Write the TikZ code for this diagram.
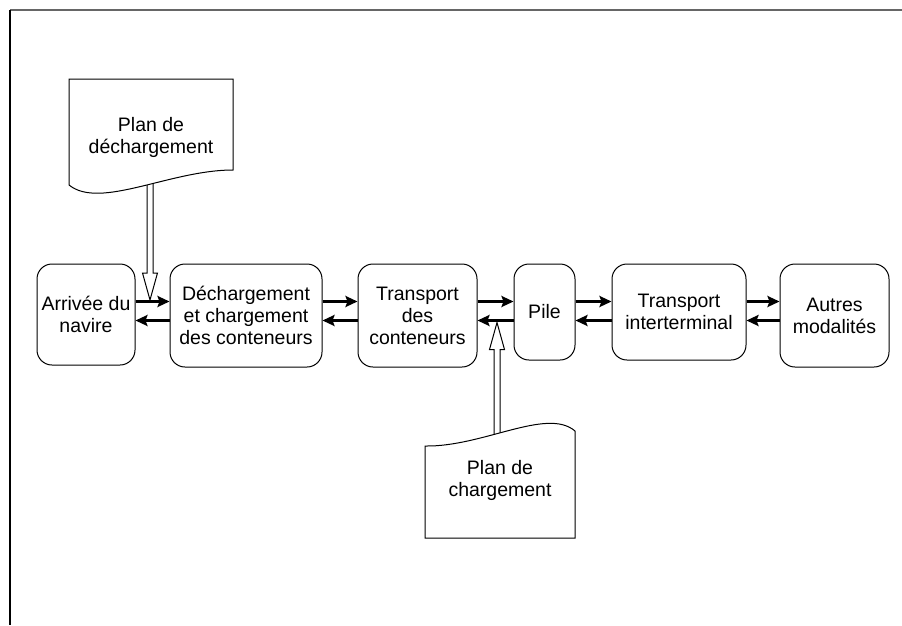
\documentclass[tikz,border=0pt]{standalone}
\usepackage{fontspec}
\setmainfont{Liberation Sans}
\usetikzlibrary{arrows.meta,backgrounds}
\begin{document}
\begin{tikzpicture}[x=1pt,y=-1pt,
        etape/.style={draw,line width=1pt,rounded corners=15pt,align=center,
            inner sep=0pt,font=\fontsize{19.5}{22}\selectfont},
        flux/.style={line width=3pt,-{Stealth[length=12pt,width=11pt,inset=2pt]}},
        feuille/.style={draw,line width=1pt,fill=white},
        plan/.style={align=center,font=\fontsize{19.5}{22}\selectfont},
        creux/.style={draw,line width=1pt,fill=white}]
    \useasboundingbox (0,0) rectangle (902,625);
    \draw[line width=2pt,black!60] (10,10) -- (902,10);
    \draw[line width=1.5pt] (10,10) -- (10,625);
    % etapes
    \node[etape,minimum width=98pt,minimum height=101pt] (arr) at (86,314.5) {Arrivée du\\navire};
    \node[etape,minimum width=152pt,minimum height=103pt] (dech) at (246,315.5) {Déchargement\\et chargement\\des conteneurs};
    \node[etape,minimum width=119pt,minimum height=103pt] (trans) at (417.5,315.5) {Transport\\des\\conteneurs};
    \node[etape,minimum width=61pt,minimum height=96pt] (pile) at (544.5,312) {Pile};
    \node[etape,minimum width=134pt,minimum height=96pt] (inter) at (679,312) {Transport\\interterminal};
    \node[etape,minimum width=109pt,minimum height=103pt] (autres) at (834.5,315.5) {Autres\\modalités};
    % aller et retour
    \draw[flux] ([yshift=-38pt]arr.north east) -- ([yshift=-38pt]dech.north west);
    \draw[flux] ([yshift=-57pt]dech.north west) -- ([yshift=-57pt]arr.north east);
    \draw[flux] ([yshift=-38pt]dech.north east) -- ([yshift=-38pt]trans.north west);
    \draw[flux] ([yshift=-57pt]trans.north west) -- ([yshift=-57pt]dech.north east);
    \draw[flux] ([yshift=-38pt]trans.north east) -- ([yshift=-38pt]pile.north west);
    \draw[flux] ([yshift=-57pt]pile.north west) -- ([yshift=-57pt]trans.north east);
    \draw[flux] ([yshift=-38pt]pile.north east) -- ([yshift=-38pt]inter.north west);
    \draw[flux] ([yshift=-57pt]inter.north west) -- ([yshift=-57pt]pile.north east);
    \draw[flux] ([yshift=-38pt]inter.north east) -- ([yshift=-38pt]autres.north west);
    \draw[flux] ([yshift=-57pt]autres.north west) -- ([yshift=-57pt]inter.north east);
    % plans
    \draw[feuille] (69,79) -- (233,79) -- (233,170) .. controls (170,170) and (100,210) .. (69,185) -- cycle;
    \node[plan] (pland) at (151,137) {Plan de\\déchargement};
    \draw[feuille] (425,538) -- (575,538) -- (575,431) .. controls (547,407) and (483,447) .. (425,446) -- cycle;
    \node[plan] (planc) at (500,480) {Plan de\\chargement};
    \coordinate (pointed) at (150,300);
    \coordinate (pointec) at (497,322.5);
    \begin{scope}[on background layer]
        \draw[creux] (pointed) -- ++(-7.5,-27) -- ++(4.5,0) -- ++(0,-95) -- ++(6,0) -- ++(0,95) -- ++(4.5,0) -- cycle;
        \draw[creux] (pointec) -- ++(-7.5,27) -- ++(4.5,0) -- ++(0,95) -- ++(6,0) -- ++(0,-95) -- ++(4.5,0) -- cycle;
    \end{scope}
\end{tikzpicture}
\end{document}
